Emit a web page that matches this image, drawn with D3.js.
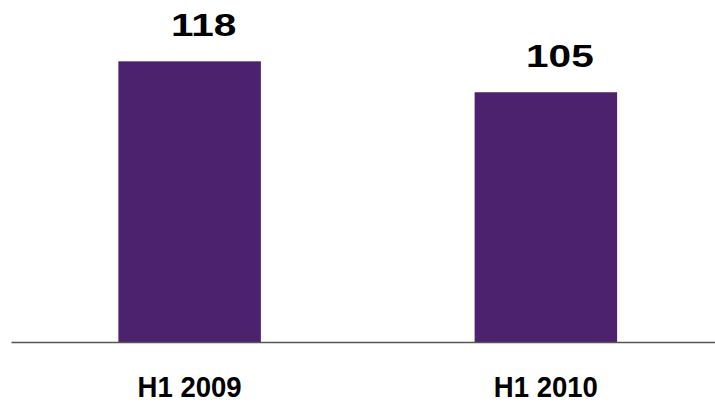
<!DOCTYPE html>
<html>
<head>
<meta charset="utf-8">
<script src="https://cdn.jsdelivr.net/npm/d3@7"></script>
<style>
  html, body { margin: 0; padding: 0; background: #fff; }
  svg { display: block; }
</style>
</head>
<body>
<div id="chart"></div>
<script>
// data
const categories = ["H1 2009", "H1 2010"];
const values = [118, 105];

const width = 715;
const height = 402;
const baseY = 342;

const svg = d3.select("#chart").append("svg")
  .attr("width", width)
  .attr("height", height);

const x = d3.scaleBand()
  .domain(categories)
  .range([11.5, 724])
  .paddingInner(0.6)
  .paddingOuter(0.3);

const y = d3.scaleLinear()
  .domain([0, 140])
  .range([baseY, 9]);

// bars
svg.selectAll("rect.bar")
  .data(values)
  .enter()
  .append("rect")
  .attr("class", "bar")
  .attr("x", (d, i) => x(categories[i]))
  .attr("y", d => y(d))
  .attr("width", x.bandwidth())
  .attr("height", d => baseY - y(d))
  .attr("fill", "#4c216e");

// baseline
svg.append("line")
  .attr("x1", 11.5)
  .attr("x2", width)
  .attr("y1", baseY + 0.5)
  .attr("y2", baseY + 0.5)
  .attr("stroke", "#555")
  .attr("stroke-width", 1.4);

// value labels (wide bold digits)
svg.selectAll("text.value")
  .data(values)
  .enter()
  .append("text")
  .attr("class", "value")
  .attr("transform", (d, i) => {
    const cx = x(categories[i]) + x.bandwidth() / 2 + 14;
    return `translate(${cx},${y(d) - 25.5}) scale(1.33,1)`;
  })
  .attr("text-anchor", "middle")
  .attr("font-family", "'Liberation Sans', Arial, sans-serif")
  .attr("font-weight", "bold")
  .attr("font-size", 30.5)
  .attr("fill", "#000")
  .text(d => d);

// category labels
const xAxis = d3.axisBottom(x).tickSize(0).tickPadding(0);
const gx = svg.append("g")
  .attr("transform", `translate(0,${baseY})`)
  .call(xAxis);
gx.select(".domain").remove();
gx.selectAll(".tick text")
  .attr("y", 0)
  .attr("dy", 0)
  .attr("transform", "translate(0,55) scale(0.95,1)")
  .attr("font-family", "'Liberation Sans', Arial, sans-serif")
  .attr("font-weight", "bold")
  .attr("font-size", 29)
  .attr("fill", "#000");
</script>
</body>
</html>
